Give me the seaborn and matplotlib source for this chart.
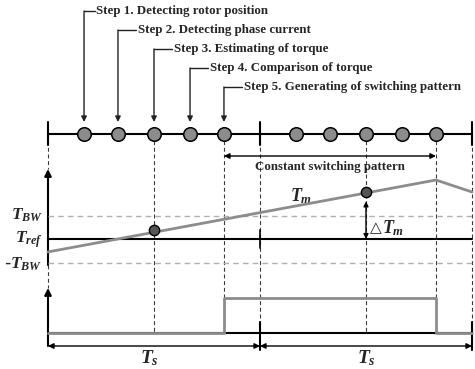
import matplotlib
matplotlib.use("Agg")
import matplotlib.pyplot as plt
import seaborn as sns
import pandas as pd

# ---------------- data ----------------
step_labels = ["Step 1. Detecting rotor position",
               "Step 2. Detecting phase current",
               "Step 3. Estimating of torque",
               "Step 4. Comparison of torque",
               "Step 5. Generating of switching pattern"]
step_times = [0.17, 0.33, 0.50, 0.67, 0.83]          # in units of Ts
sample_times = [0.17, 0.33, 0.50, 0.67, 0.83, 1.17, 1.33, 1.50, 1.67, 1.83]
tm_time = [0.0, 1.83, 2.0]                            # torque trajectory
tm_value = [-0.55, 2.51, 2.0]                         # in units of T_BW (T_ref = 0)
est_time = [0.50, 1.50]
est_value = [0.38, 2.0]
sw_time = [0.0, 0.83, 0.83, 1.83, 1.83, 2.0]
sw_state = [0, 0, 1, 1, 0, 0]
t_bw, t_ref = 1.0, 0.0

sns.set_theme(style="white")
plt.rcParams["mathtext.fontset"] = "custom"
plt.rcParams["mathtext.it"] = "Liberation Serif:italic:bold"
plt.rcParams["mathtext.rm"] = "Liberation Serif:bold"
plt.rcParams["mathtext.bf"] = "Liberation Serif:bold"

W, H = 475, 369
fig = plt.figure(figsize=(W / 100, H / 100), dpi=100)
X0, X2 = 48, 472
ppt = (X2 - X0) / 2.0
xlim = (-X0 / ppt, (W - X0) / ppt)

def mk_ax(ylim):
    a = fig.add_axes([0, 0, 1, 1])
    a.set_xlim(*xlim)
    a.set_ylim(*ylim)
    a.axis("off")
    a.patch.set_alpha(0)
    return a

ax = mk_ax((H, 0))                      # layout axes, y in pixel rows
ref_px, bw_px = 239, 23.5
ax_tq = mk_ax(((ref_px - H) / bw_px, ref_px / bw_px))
base_px, hi_px = 333, 35.0
ax_sw = mk_ax(((base_px - H) / hi_px, base_px / hi_px))

serif = "Liberation Serif"
dash_c = "#3a3a3a"
grey = "#8c8c8c"

# ---- dashed vertical guides ----
for t, y1, y2 in [(0, 134, 169), (0, 265, 288), (0.5, 134, 333), (0.83, 134, 298),
                  (1, 134, 333), (1.5, 134, 333), (1.83, 134, 298), (2, 134, 333)]:
    ax.plot([t, t], [y1, y2], color=dash_c, lw=0.8, ls=(0, (3.5, 2.5)), zorder=1)

# ---- timeline ----
ax.plot([0, 2], [134, 134], color="black", lw=1.5, zorder=2)
for t in [0, 1, 2]:
    ax.plot([t, t], [122, 145], color="black", lw=1.5, zorder=2)
sns.scatterplot(x=sample_times, y=[134] * len(sample_times), ax=ax, s=95,
                color=grey, edgecolor="black", linewidth=1.1, zorder=5, legend=False)

# ---- step annotations ----
text_y = [11, 30, 49, 68, 87]
for lab, t, ty in zip(step_labels, step_times, text_y):
    gap = 0.05 if t < 0.2 else 0.085
    ax.plot([t, t + gap], [ty, ty], color="#222222", lw=1)
    ax.annotate("", xy=(t, 122), xytext=(t, ty),
                arrowprops=dict(arrowstyle="-|>", color="#222222", lw=1,
                                mutation_scale=8, shrinkA=0, shrinkB=0))
    ax.text(t + gap + 0.008, ty, lab, fontsize=9.3, fontweight="bold", family=serif,
            va="center", ha="left")

# ---- constant switching pattern ----
ax.annotate("", xy=(1.83, 156), xytext=(0.83, 156),
            arrowprops=dict(arrowstyle="<|-|>", color="black", lw=1,
                            mutation_scale=8, shrinkA=0, shrinkB=0))
ax.text(1.33, 167, "Constant switching pattern", fontsize=9.3, fontweight="bold",
        family=serif, ha="center", va="center")

# ---- torque plot ----
ax.annotate("", xy=(0, 169), xytext=(0, 265),
            arrowprops=dict(arrowstyle="-|>", color="black", lw=1.5,
                            mutation_scale=10, shrinkA=0, shrinkB=0))
ax_tq.plot([0, 2], [t_bw, t_bw], color="#b0b0b0", lw=1, ls=(0, (4, 3)), zorder=1)
ax_tq.plot([0, 2], [-t_bw, -t_bw], color="#b0b0b0", lw=1, ls=(0, (4, 3)), zorder=1)
ax_tq.plot([0, 2], [t_ref, t_ref], color="black", lw=1.5, zorder=2)
ax.plot([1, 1], [230, 248], color="black", lw=1.2, zorder=2)
df_tm = pd.DataFrame({"t": tm_time, "Tm": tm_value})
sns.lineplot(data=df_tm, x="t", y="Tm", ax=ax_tq, color=grey, lw=2, sort=False,
             estimator=None, zorder=3)
sns.scatterplot(x=est_time, y=est_value, ax=ax_tq, s=55, color="#555555",
                edgecolor="black", linewidth=1, zorder=6, legend=False)
ax_tq.annotate("", xy=(1.5, t_ref), xytext=(1.5, est_value[1] - 0.4),
               arrowprops=dict(arrowstyle="<|-|>", color="black", lw=1,
                               mutation_scale=7, shrinkA=0, shrinkB=0))
ax.text(1.52, 228, "\u25b3", fontsize=11, family="DejaVu Sans", ha="left", va="center")
ax.text(1.575, 228, r"$T_m$", fontsize=13, ha="left", va="center")
ax.text(1.14, 196, r"$T_m$", fontsize=13, ha="left", va="center")
ax.text(-0.024, 215, r"$T_{BW}$", fontsize=12.5, ha="right", va="center")
ax.text(-0.024, 240, r"$T_{ref}$", fontsize=12.5, ha="right", va="center")
ax.text(-0.024, 264, r"-$T_{BW}$", fontsize=12.5, ha="right", va="center")

# ---- switching plot ----
ax.annotate("", xy=(0, 288), xytext=(0, 346),
            arrowprops=dict(arrowstyle="-|>", color="black", lw=1.5,
                            mutation_scale=10, shrinkA=0, shrinkB=0))
ax_sw.plot([0, 2], [0, 0], color="black", lw=1.5, zorder=2)
df_sw = pd.DataFrame({"t": sw_time, "s": sw_state})
sns.lineplot(data=df_sw, x="t", y="s", ax=ax_sw, color=grey, lw=2, sort=False,
             estimator=None, zorder=3)
for t in [1, 2]:
    ax.plot([t, t], [322, 350], color="black", lw=1.5, zorder=2)

# ---- Ts arrows ----
for a, b in [(0, 1), (1, 2)]:
    ax.annotate("", xy=(b, 346), xytext=(a, 346),
                arrowprops=dict(arrowstyle="<|-|>", color="black", lw=1,
                                mutation_scale=8, shrinkA=0, shrinkB=0))
ax.text(0.48, 358, r"$T_s$", fontsize=14, ha="center", va="center")
ax.text(1.5, 358, r"$T_s$", fontsize=14, ha="center", va="center")

fig.savefig("out.png", dpi=100)
